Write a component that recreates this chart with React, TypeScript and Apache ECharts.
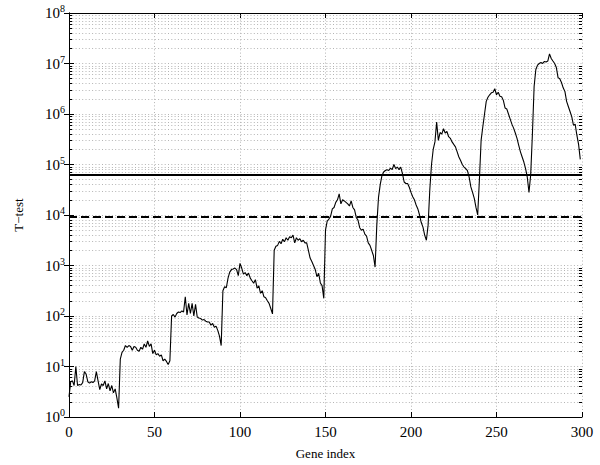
import React, { useEffect, useRef } from "react";
import * as echarts from "echarts";

// T-test values per block of 30 genes
const block1 = [2.5, 5.0, 5.2, 4.2, 10, 4.2, 4.4, 4.3, 4.8, 7.9, 7.1, 5.0, 4.7, 5.0, 4.8, 5.2, 7.9, 5.2, 3.5, 4.5, 4.2, 5.2, 3.6, 4.6, 3.3, 4.2, 3.0, 3.6, 2.4, 1.5];
const block2 = [14, 19, 21, 26, 24, 26, 25, 21, 25, 24, 21, 20, 24, 22, 28, 24, 32, 25, 28, 18, 21, 17, 18, 16, 17, 13, 14, 12.6, 11, 13];
const block3 = [100, 107, 95, 112, 120, 117, 126, 120, 240, 105, 178, 112, 178, 100, 170, 95, 91, 89, 83, 85, 79, 76, 76, 66, 71, 60, 63, 52, 40, 26];
const block4 = [316, 380, 363, 562, 740, 830, 850, 890, 830, 630, 1100, 890, 676, 724, 630, 708, 562, 500, 447, 525, 355, 398, 282, 316, 240, 229, 200, 178, 141, 110];
const block5 = [2000, 2400, 2500, 3000, 2700, 3300, 2950, 3550, 3160, 3700, 3550, 4000, 2800, 3550, 3160, 3400, 2950, 3160, 2800, 2800, 2000, 1400, 1200, 1000, 830, 600, 700, 450, 400, 224];
const block6 = [5000, 7600, 8300, 9500, 13200, 14100, 17800, 20000, 26300, 16600, 20000, 19000, 17800, 16600, 15100, 19000, 14100, 12600, 8900, 7900, 5600, 5000, 5250, 4170, 3800, 2800, 2500, 2000, 1580, 930];
const block7 = [6300, 22400, 40000, 60000, 71000, 76000, 79000, 76000, 85000, 79000, 100000, 83000, 89000, 79000, 89000, 66000, 45000, 42000, 42000, 35500, 28000, 23000, 20000, 15800, 13200, 10000, 7100, 5750, 4000, 3160];
const block8 = [6300, 32000, 1e5, 2e5, 2.8e5, 6.9e5, 3e5, 4.3e5, 4e5, 5.1e5, 4.2e5, 4.5e5, 3.55e5, 3.3e5, 2.8e5, 2.5e5, 2.24e5, 1.78e5, 1.41e5, 1.2e5, 1e5, 8.9e4, 8.3e4, 7.6e4, 5.6e4, 3.6e4, 2.8e4, 2.14e4, 1.41e4, 1e4];
const block9 = [5e4, 3e5, 5.6e5, 1e6, 1.78e6, 2.14e6, 2.4e6, 2.63e6, 2.7e6, 3.16e6, 2.4e6, 2.7e6, 2.24e6, 2.2e6, 1.86e6, 1.32e6, 1.26e6, 1e6, 7.9e5, 6.3e5, 5.25e5, 4.2e5, 3.3e5, 2.4e5, 1.78e5, 1.41e5, 1.12e5, 8.3e4, 5.6e4, 2.8e4];
const block10 = [6.3e4, 4e5, 3.5e6, 7.6e6, 9.3e6, 1e7, 1.05e7, 1e7, 1.1e7, 1.07e7, 1.12e7, 1.55e7, 1.26e7, 1.12e7, 1e7, 8.3e6, 5.25e6, 5e6, 4.2e6, 3.3e6, 2.8e6, 1.78e6, 1.41e6, 1.12e6, 8.9e5, 6e5, 6.3e5, 3.8e5, 2.5e5, 1.26e5];

const tTest = [...block1, ...block2, ...block3, ...block4, ...block5, ...block6, ...block7, ...block8, ...block9, ...block10];

const thresholdSolid = 6.2e4;
const thresholdDashed = 9.2e3;

const xMin = 0;
const xMax = 300;
const xInterval = 50;
const yMin = 1;
const yMax = 1e8;
const decades = [1, 10, 100, 1e3, 1e4, 1e5, 1e6, 1e7];
const minorMultipliers = [2, 3, 4, 5, 6, 7, 8, 9];

const FONT = "'Liberation Serif', 'DejaVu Serif', serif";

export default function App() {
  const ref = useRef<HTMLDivElement>(null);

  useEffect(() => {
    if (!ref.current) return;
    const chart = echarts.init(ref.current, null, { renderer: "svg" });

    const minorValues: number[] = [];
    decades.forEach((d) => minorMultipliers.forEach((m) => minorValues.push(d * m)));

    const gridDot = { color: "#b4b4b4", width: 1, type: [1, 2.3] as any };

    const minorGridLines = minorValues.map((v) => ({ yAxis: v, lineStyle: gridDot }));
    const tickLen = 1.8;
    const minorTicks: any[] = [];
    minorValues.forEach((v) => {
      minorTicks.push([{ coord: [xMin, v] }, { coord: [xMin + tickLen, v] }]);
      minorTicks.push([{ coord: [xMax, v] }, { coord: [xMax - tickLen, v] }]);
    });

    const axisLineStyle = { color: "#000", width: 1 };

    const option: any = {
      animation: false,
      backgroundColor: "#fff",
      textStyle: { fontFamily: FONT, color: "#000" },
      grid: { left: 69, top: 13, right: 18, bottom: 48, containLabel: false },
      xAxis: [
        {
          type: "value",
          min: xMin,
          max: xMax,
          interval: xInterval,
          name: "Gene index",
          nameLocation: "middle",
          nameGap: 30,
          nameTextStyle: { fontFamily: FONT, fontSize: 13, color: "#000" },
          axisLine: { show: true, lineStyle: axisLineStyle },
          axisTick: { show: true, inside: true, length: 5, lineStyle: axisLineStyle },
          axisLabel: { fontFamily: FONT, fontSize: 15, color: "#000", margin: 7 },
          splitLine: { show: true, lineStyle: gridDot },
        },
        {
          type: "value",
          position: "top",
          min: xMin,
          max: xMax,
          interval: xInterval,
          axisLine: { show: true, lineStyle: axisLineStyle },
          axisTick: { show: true, inside: true, length: 5, lineStyle: axisLineStyle },
          axisLabel: { show: false },
          splitLine: { show: false },
        },
      ],
      yAxis: [
        {
          type: "log",
          logBase: 10,
          min: yMin,
          max: yMax,
          splitNumber: 8,
          name: "T\u2212test",
          nameLocation: "middle",
          nameGap: 44,
          nameRotate: 90,
          nameTextStyle: { fontFamily: FONT, fontSize: 13, color: "#000" },
          axisLine: { show: true, lineStyle: axisLineStyle },
          axisTick: { show: true, inside: true, length: 5, lineStyle: axisLineStyle },
          axisLabel: {
            margin: 4,
            formatter: (v: number) => `{b|10}{s|${Math.round(Math.log10(v))}}`,
            rich: {
              b: { fontFamily: FONT, fontSize: 15, color: "#000" },
              s: { fontFamily: FONT, fontSize: 10, color: "#000", padding: [0, 0, 9, 0] },
            },
          },
          splitLine: { show: true, lineStyle: gridDot },
        },
        {
          type: "log",
          logBase: 10,
          position: "right",
          min: yMin,
          max: yMax,
          splitNumber: 8,
          axisLine: { show: true, lineStyle: axisLineStyle },
          axisTick: { show: true, inside: true, length: 5, lineStyle: axisLineStyle },
          axisLabel: { show: false },
          splitLine: { show: false },
        },
      ],
      series: [
        {
          name: "grid",
          type: "line",
          data: [[xMin, yMin]],
          symbol: "none",
          lineStyle: { opacity: 0 },
          silent: true,
          markLine: {
            silent: true,
            symbol: "none",
            label: { show: false },
            animation: false,
            data: [...minorGridLines],
          },
        },
        {
          name: "ticks",
          type: "line",
          data: [[xMin, yMin]],
          symbol: "none",
          lineStyle: { opacity: 0 },
          silent: true,
          markLine: {
            silent: true,
            symbol: "none",
            label: { show: false },
            animation: false,
            lineStyle: { color: "#000", width: 1, type: "solid" },
            data: minorTicks,
          },
        },
        {
          name: "T-test",
          type: "line",
          data: tTest.map((v, i) => [i, v]),
          symbol: "none",
          lineStyle: { color: "#000", width: 1.1 },
          z: 5,
          markLine: {
            silent: true,
            symbol: "none",
            label: { show: false },
            animation: false,
            data: [
              { yAxis: thresholdSolid, lineStyle: { color: "#000", width: 2, type: "solid" } },
              { yAxis: thresholdDashed, lineStyle: { color: "#000", width: 2, type: [8, 4] } },
            ],
          },
        },
      ],
    };

    chart.setOption(option);
    return () => chart.dispose();
  }, []);

  return (
    <div
      ref={ref}
      style={{ position: "fixed", left: 0, top: 0, width: 600, height: 465, background: "#fff" }}
    />
  );
}
